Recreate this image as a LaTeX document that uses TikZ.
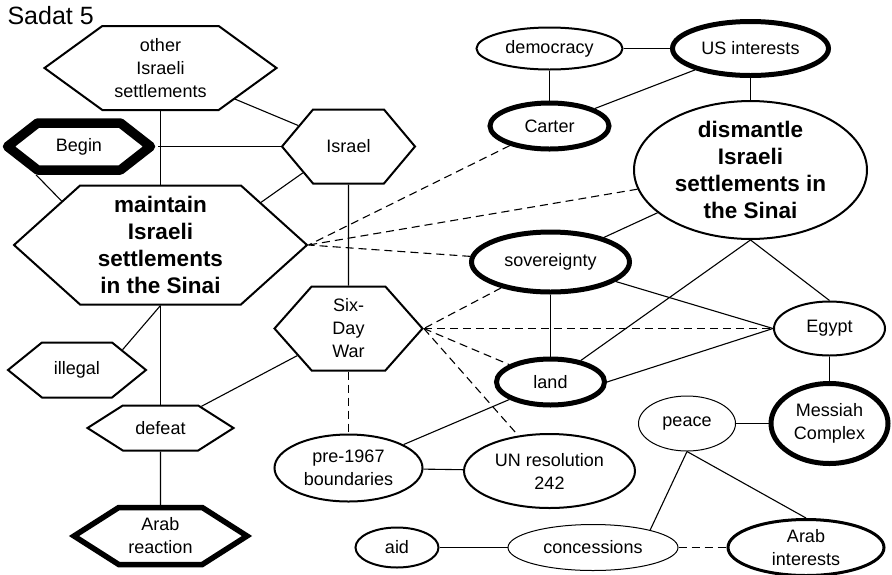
\documentclass[tikz,border=0pt]{standalone}
\usepackage{fontspec}
\setmainfont{Liberation Sans}
\usetikzlibrary{shapes.geometric,shapes.symbols}
\newcommand\nreg{\fontsize{18}{23}\selectfont}
\newcommand\nbld{\fontsize{22.5}{27}\selectfont\bfseries}
\begin{document}
\begin{tikzpicture}[x=1pt,y=-1pt,
  hexnode/.style={signal, signal to=east and west, draw, line width=2pt, inner sep=0pt, align=center, font=\nreg, line join=miter},
  ellnode/.style={ellipse, draw, line width=2pt, inner sep=0pt, align=center, font=\nreg},
  thick node/.style={line width=5pt},
  conn/.style={line width=1.1pt},
  dconn/.style={line width=1.1pt, dash pattern=on 8pt off 5pt}]
\useasboundingbox (0,0) rectangle (892,574);
\node[anchor=base west, font=\fontsize{25}{29}\selectfont] (title) at (4,24) {Sadat 5};
% hexagons
\node[hexnode, minimum width=232pt, minimum height=84pt, signal pointer angle=72] (other) at (160.5,68) {other\\Israeli\\settlements};
\node[hexnode, line width=9.5pt, line join=round, minimum width=143pt, minimum height=47pt, signal pointer angle=76] (Begin) at (79,146.5) {Begin};
\node[hexnode, font=\nbld, minimum width=293pt, minimum height=119pt, signal pointer angle=84] (maintain) at (160.5,245) {maintain\\Israeli\\settlements\\in the Sinai};
\node[hexnode, minimum width=133pt, minimum height=74pt, signal pointer angle=100] (Israel) at (348.5,146.5) {Israel};
\node[hexnode, minimum width=148pt, minimum height=84pt, signal pointer angle=97] (sixday) at (348.5,328.5) {Six-\\Day\\War};
\node[hexnode, minimum width=138pt, minimum height=55pt, signal pointer angle=78] (illegal) at (77,370) {illegal};
\node[hexnode, minimum width=146pt, minimum height=45pt, signal pointer angle=65] (defeat) at (160.5,428) {defeat};
\node[hexnode, line width=5.5pt, minimum width=173pt, minimum height=57pt, signal pointer angle=65] (arabreact) at (160.5,536) {Arab\\reaction};
% ellipses
\node[ellnode, minimum width=146pt, minimum height=42pt] (democracy) at (549.5,48.5) {democracy};
\node[ellnode, thick node, minimum width=156pt, minimum height=54pt] (us) at (750.5,48.5) {US interests};
\node[ellnode, thick node, minimum width=119pt, minimum height=46pt] (carter) at (549.5,126) {Carter};
\node[ellnode, font=\nbld, minimum width=233pt, minimum height=122pt] (dismantle) at (750.5,170) {dismantle\\Israeli\\settlements in\\the Sinai};
\node[ellnode, thick node, minimum width=158pt, minimum height=60pt] (sov) at (550.5,262) {sovereignty};
\node[ellnode, minimum width=111pt, minimum height=54pt] (egypt) at (829.5,328.5) {Egypt};
\node[ellnode, thick node, minimum width=108pt, minimum height=46pt] (land) at (550.5,382) {land};
\node[ellnode, line width=1pt, minimum width=97pt, minimum height=55pt] (peace) at (687,423.5) {peace};
\node[ellnode, thick node, minimum width=117pt, minimum height=80pt] (messiah) at (829.5,423.5) {Messiah\\Complex};
\node[ellnode, minimum width=148pt, minimum height=67pt] (pre) at (348.5,468) {pre-1967\\boundaries};
\node[ellnode, minimum width=171pt, minimum height=74pt] (un) at (549.5,471) {UN resolution\\242};
\node[ellnode, minimum width=83pt, minimum height=40pt] (aid) at (397,547.5) {aid};
\node[ellnode, line width=1pt, minimum width=170pt, minimum height=46pt] (conc) at (593,547.5) {concessions};
\node[ellnode, line width=3pt, minimum width=156pt, minimum height=56pt] (arabint) at (806,547.5) {Arab\\interests};
% solid connectors
\draw[conn] (other.south) -- (maintain.north);
\draw[conn] (Begin.east) -- (Israel.west);
\draw[conn] (other) -- (Israel);
\draw[conn] (Begin.south west) -- (maintain.156);
\draw[conn] (Israel.210) -- (maintain.23);
\draw[conn] (Israel) -- (sixday);
\draw[conn] (maintain.south) -- (illegal.24);
\draw[conn] (maintain.south) -- (defeat.north);
\draw[conn] (defeat) -- (arabreact);
\draw[conn] (defeat) -- (sixday);
\draw[conn] (pre) -- (land);
\draw[conn] (pre) -- (un);
\draw[conn] (aid) -- (conc);
\draw[conn] (peace.south) -- (conc.17);
\draw[conn] (peace.south) -- (arabint.north);
\draw[conn] (peace) -- (messiah);
\draw[conn] (egypt) -- (messiah);
\draw[conn] (land.east) -- (egypt.west);
\draw[conn] (sov) -- (egypt.west);
\draw[conn] (dismantle.south) -- (egypt.north);
\draw[conn] (dismantle.south) -- (land);
\draw[conn] (dismantle) -- (sov);
\draw[conn] (us) -- (dismantle);
\draw[conn] (democracy) -- (us);
\draw[conn] (democracy) -- (carter);
\draw[conn] (us) -- (carter);
\draw[conn] (sov) -- (land);
% dashed connectors
\draw[dconn] (sixday) -- (pre);
\draw[dconn] (conc) -- (arabint);
\draw[dconn] (carter) -- (maintain.east);
\draw[dconn] (dismantle) -- (maintain.east);
\draw[dconn] (sov) -- (maintain.east);
\draw[dconn] (sov) -- (sixday.east);
\draw[dconn] (sixday.east) -- (egypt.west);
\draw[dconn] (sixday.east) -- (land);
\draw[dconn] (sixday.east) -- (un);
\end{tikzpicture}
\end{document}
